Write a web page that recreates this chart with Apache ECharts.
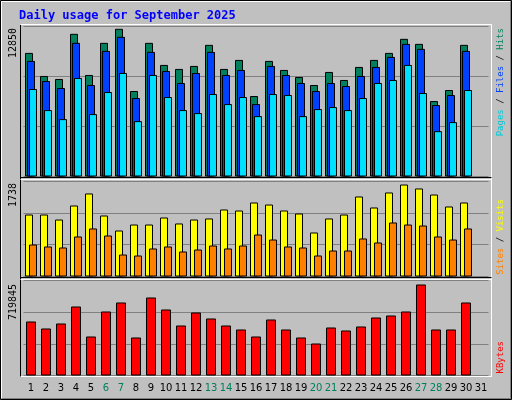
<!DOCTYPE html>
<html><head><meta charset="utf-8">
<script src="https://cdn.jsdelivr.net/npm/echarts@6/dist/echarts.min.js"></script>
<style>html,body{margin:0;padding:0;background:#c0c0c0}#c{width:512px;height:400px}</style>
</head><body><div id="c"></div>
<script>
const days = Array.from({length:31},(_,i)=>String(i+1));
const weekendDays = ['6','7','13','14','20','21','27','28'];
const hits = [10554,8584,8327,12182,8670,11411,12610,7299,11411,9526,9184,9441,11240,9184,9955,6871,9869,9098,8498,7813,8927,8241,9355,9955,10554,11754,11325,6442,7385,11240,null];
const files = [9869,8156,7556,11411,7813,10726,11925,6699,10640,9012,7984,8841,10640,8670,9098,6185,9441,8670,7984,7299,7984,7727,8584,9355,10212,11325,10897,6100,6956,10726,null];
const pages = [7470,5671,4900,8413,5329,7213,8841,4729,8670,6785,5671,5414,7042,6185,6785,5157,7042,6956,5157,5757,5928,5671,6699,7984,8241,9526,7128,3872,4643,7385,null];
const visits = [1128,1128,1037,1292,1511,1110,837,946,946,1074,965,1037,1056,1219,1201,1347,1310,1201,1147,801,1056,1128,1456,1256,1529,1674,1602,1492,1274,1347,null];
const sites = [582,546,528,728,874,746,400,382,510,546,455,491,564,510,564,764,673,546,528,382,473,473,692,619,983,946,928,728,673,874,null];
const kbytes = [409180,356138,394025,522840,295519,484954,553150,287941,591037,500108,378870,477376,431912,378870,348560,295519,424334,348560,287941,242477,363715,340983,371293,439489,454644,484954,689543,348560,348560,553150,null];
const maxHits = 12850, maxVisits = 1738, maxKB = 719845;

const chart = echarts.init(document.getElementById('c'));
const L = 23.5, W = 465;
const grids = [
  {left:L, width:W, top:26, height:150.5},
  {left:L, width:W, top:181, height:95.5},
  {left:L, width:W, top:280.5, height:95}
];
const xA = (i, show) => ({type:'category', gridIndex:i, data:days, boundaryGap:true,
  axisLine:{show:false}, axisTick:{show:false},
  axisLabel:{show:show, margin:8, fontFamily:'DejaVu Sans', fontSize:10, interval:0,
    formatter:v => weekendDays.includes(v) ? '{w|'+v+'}' : '{n|'+v+'}',
    rich:{w:{color:'#00805c',fontFamily:'DejaVu Sans',fontSize:10},n:{color:'#000',fontFamily:'DejaVu Sans',fontSize:10}}}});
const yA = (i, max) => ({type:'value', gridIndex:i, min:0, max:max, interval:max/3,
  axisLabel:{show:false}, axisLine:{show:false}, axisTick:{show:false},
  splitLine:{lineStyle:{color:'#808080', width:1}}});
const bar = (name, data, xi, color, bw, gap) => ({name, type:'bar', xAxisIndex:xi, yAxisIndex:xi, data,
  barWidth:bw, barGap:gap, itemStyle:{color, borderColor:'#000', borderWidth:1}, animation:false});

const line = (x1,y1,x2,y2,c) => ({type:'line', z:100, shape:{x1,y1,x2,y2}, style:{stroke:c, lineWidth:1}});
const vtext = (x, y, rich, text) => ({type:'text', z:100, x, y, rotation:Math.PI/2,
  style:{text, rich, fontFamily:'DejaVu Sans Mono', fontSize:9, align:'right', verticalAlign:'middle'}});
const R = {fontFamily:'DejaVu Sans Mono', fontSize:9};
const RL = {fontFamily:'DejaVu Sans Mono', fontSize:10};

chart.setOption({
  backgroundColor:'#c0c0c0',
  animation:false,
  grid:grids,
  xAxis:[xA(0,false), xA(1,false), xA(2,true)],
  yAxis:[yA(0,maxHits), yA(1,maxVisits), yA(2,maxKB)],
  series:[
    bar('Hits', hits, 0, '#00805c', 8, '-75%'),
    bar('Files', files, 0, '#0040ff', 8, '-75%'),
    bar('Pages', pages, 0, '#00e0ff', 8, '-75%'),
    bar('Visits', visits, 1, '#ffff00', 8, '-50%'),
    bar('Sites', sites, 1, '#ff8000', 8, '-50%'),
    bar('KBytes', kbytes, 2, '#ff0000', 10, '0%')
  ],
  graphic:[
    {type:'rect', z:100, shape:{x:0.5,y:0.5,width:511,height:399}, style:{fill:null, stroke:'#000', lineWidth:1}},
    line(1.5,1.5,510.5,1.5,'#fff'), line(1.5,1.5,1.5,398.5,'#fff'),
    line(510.5,1.5,510.5,398.5,'#808080'), line(1.5,398.5,510.5,398.5,'#808080'),
    {type:'text', z:100, x:19, y:16, style:{text:'Daily usage for September 2025', fill:'#0000ff',
      fontFamily:'DejaVu Sans Mono', fontWeight:'bold', fontSize:12, verticalAlign:'middle'}},
    line(20.5,25,20.5,377,'#000'),
    line(20.5,24.5,491.5,24.5,'#fff'),
    line(491.5,24.5,491.5,377,'#fff'),
    line(20.5,177.5,491.5,177.5,'#000'), line(20.5,179.5,491.5,179.5,'#fff'),
    line(20.5,277.5,491.5,277.5,'#000'), line(20.5,279.5,491.5,279.5,'#fff'),
    line(20.5,376.5,491.5,376.5,'#fff'),
    vtext(13, 28, {k:{...RL, fill:'#000'}}, '{k|12850}'),
    vtext(13, 183, {k:{...RL, fill:'#000'}}, '{k|1738}'),
    vtext(13, 284, {k:{...RL, fill:'#000'}}, '{k|719845}'),
    vtext(501, 28, {p:{...R, fill:'#00c8d8'}, s:{...R, fill:'#000'}, f:{...R, fill:'#0040ff'}, h:{...R, fill:'#00805c'}},
      '{p|Pages}{s| / }{f|Files}{s| / }{h|Hits}'),
    vtext(501, 199, {a:{...R, fill:'#ff8000'}, s:{...R, fill:'#000'}, v:{...R, fill:'#ffff00'}},
      '{a|Sites}{s| / }{v|Visits}'),
    vtext(501, 341, {k:{...R, fill:'#ff0000'}}, '{k|KBytes}')
  ]
});
</script></body></html>
